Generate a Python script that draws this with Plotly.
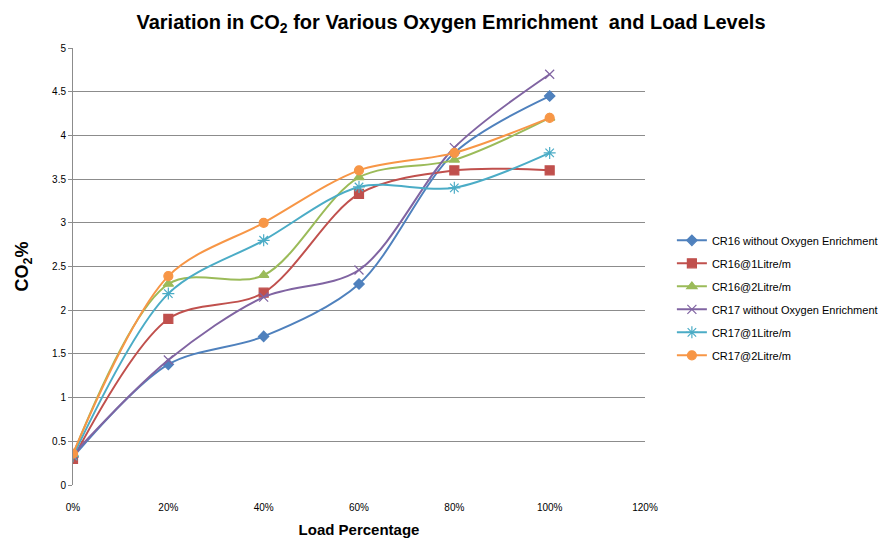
import plotly.graph_objects as go

# Load levels (fraction of full load)
load = [0.0, 0.2, 0.4, 0.6, 0.8, 1.0]

# CO2 % readings for each engine configuration
cr16_none = [0.32, 1.38, 1.70, 2.30, 3.80, 4.45]
cr16_1l = [0.30, 1.90, 2.20, 3.33, 3.60, 3.60]
cr16_2l = [0.35, 2.30, 2.40, 3.52, 3.72, 4.20]
cr17_none = [0.35, 1.43, 2.15, 2.46, 3.86, 4.70]
cr17_1l = [0.33, 2.19, 2.80, 3.41, 3.40, 3.80]
cr17_2l = [0.36, 2.39, 3.00, 3.60, 3.80, 4.20]

x_ticks = [0, 0.2, 0.4, 0.6, 0.8, 1.0, 1.2]
x_labels = ["0%", "20%", "40%", "60%", "80%", "100%", "120%"]

series = [
    ("CR16 without Oxygen Enrichment", cr16_none, "#4F81BD", "diamond", 8),
    ("CR16@1Litre/m", cr16_1l, "#C0504D", "square", 9),
    ("CR16@2Litre/m", cr16_2l, "#9BBB59", "triangle-up", 9),
    ("CR17 without Oxygen Enrichment", cr17_none, "#8064A2", "x-thin-open", 9),
    ("CR17@1Litre/m", cr17_1l, "#4BACC6", "asterisk-open", 10),
    ("CR17@2Litre/m", cr17_2l, "#F79646", "circle", 9),
]

fig = go.Figure()
for i, (name, vals, color, sym, size) in enumerate(series):
    fig.add_trace(go.Scatter(
        x=load, y=vals, name=name, mode="lines+markers",
        legendgroup=f"g{i}",
        line=dict(color=color, width=2, shape="spline", smoothing=0.9),
        marker=dict(symbol=sym, size=size, color=color,
                    line=dict(color=color, width=1.2)),
    ))

font_main = "Liberation Sans"
fig.update_layout(
    width=886, height=544,
    margin=dict(l=73, r=241, t=48, b=59, autoexpand=False),
    paper_bgcolor="white", plot_bgcolor="white",
    title=dict(
        text="<b>Variation in CO<sub>2</sub> for Various Oxygen Emrichment  and Load Levels</b>",
        x=451 / 886, xanchor="center", y=1 - 22 / 544, yanchor="middle",
        font=dict(family=font_main, size=20, color="#000000"),
    ),
    showlegend=True,
    legend=dict(
        x=1.047, xanchor="left", y=0.593, yanchor="top",
        font=dict(family=font_main, size=11, color="#000000"),
        tracegroupgap=4, itemwidth=30,
        bgcolor="rgba(0,0,0,0)",
    ),
    xaxis=dict(
        range=[0, 1.2], tickvals=x_ticks, ticktext=x_labels,
        showgrid=False, zeroline=False, showline=False,
        ticks="", tickfont=dict(family=font_main, size=10, color="#000000"),
        ticklabelstandoff=15,
        title=dict(text="<b>Load Percentage</b>", standoff=12,
                   font=dict(family=font_main, size=15, color="#000000")),
    ),
    yaxis=dict(
        range=[0, 5], dtick=0.5,
        showgrid=True, gridcolor="#8C8C8C", gridwidth=1,
        zeroline=False, showline=True, linecolor="#8C8C8C", linewidth=1,
        ticks="outside", ticklen=4, tickcolor="#8C8C8C",
        tickfont=dict(family=font_main, size=10, color="#000000"),
        title=dict(text="<b>CO<sub>2</sub>%</b>", standoff=18,
                   font=dict(family=font_main, size=18, color="#000000")),
    ),
)

fig.write_html("out.html")
